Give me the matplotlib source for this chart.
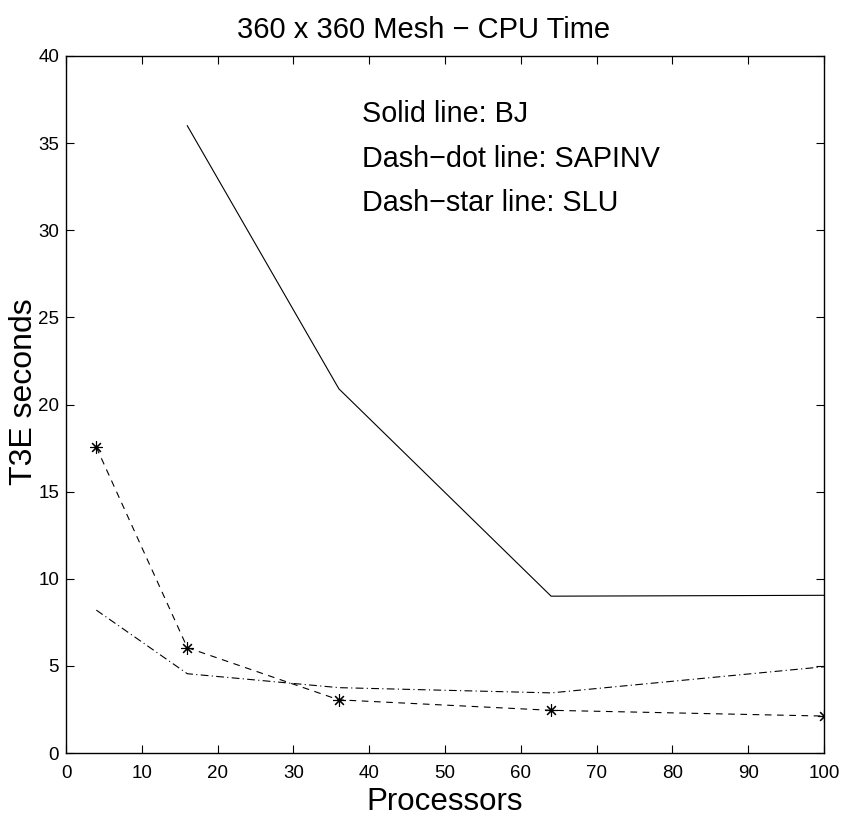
import matplotlib.pyplot as plt

plt.rcParams['font.family'] = ['Liberation Sans', 'DejaVu Sans']

# processors used in the runs
procs = [4, 16, 36, 64, 100]
procs_bj = [16, 36, 64, 100]

# T3E seconds
bj = [36.0, 20.9, 9.0, 9.05]
sapinv = [8.2, 4.55, 3.75, 3.45, 4.95]
slu = [17.55, 6.05, 3.05, 2.45, 2.12]

notes = ['Solid line: BJ', 'Dash\u2212dot line: SAPINV', 'Dash\u2212star line: SLU']
note_y = [36.2, 33.65, 31.1]

fig = plt.figure(figsize=(8.41, 8.17), dpi=100)
ax = fig.add_axes([66 / 841, 64 / 817, 758 / 841, 697 / 817])

ax.plot(procs_bj, bj, color='black', lw=0.8)
ax.plot(procs, sapinv, color='black', lw=0.8, dashes=(7, 3, 1, 3))
ax.plot(procs, slu, color='black', lw=0.8, dashes=(6, 5),
        marker=(8, 2, 0), markersize=9, markeredgewidth=0.8)

for t, y in zip(notes, note_y):
    ax.text(39.1, y, t, fontsize=20.7, va='baseline', ha='left')

ax.set_xlim(0, 100)
ax.set_ylim(0, 40)
ax.set_xticks(range(0, 101, 10))
ax.set_yticks(range(0, 41, 5))
ax.tick_params(direction='in', length=6, width=0.8, labelsize=13.5,
               top=True, right=True)
ax.tick_params(axis='x', pad=9)
ax.tick_params(axis='y', pad=5)
for s in ax.spines.values():
    s.set_linewidth(1.0)

ax.set_xlabel('Processors', fontsize=22.5, labelpad=3)
ax.set_ylabel('T3E seconds', fontsize=23)
ax.yaxis.set_label_coords(-0.035, 0.518)
fig.text(424 / 841, 1 - 38 / 817, '360 x 360 Mesh \u2212 CPU Time',
         fontsize=21, ha='center', va='baseline')

fig.savefig('out.png', dpi=100)
